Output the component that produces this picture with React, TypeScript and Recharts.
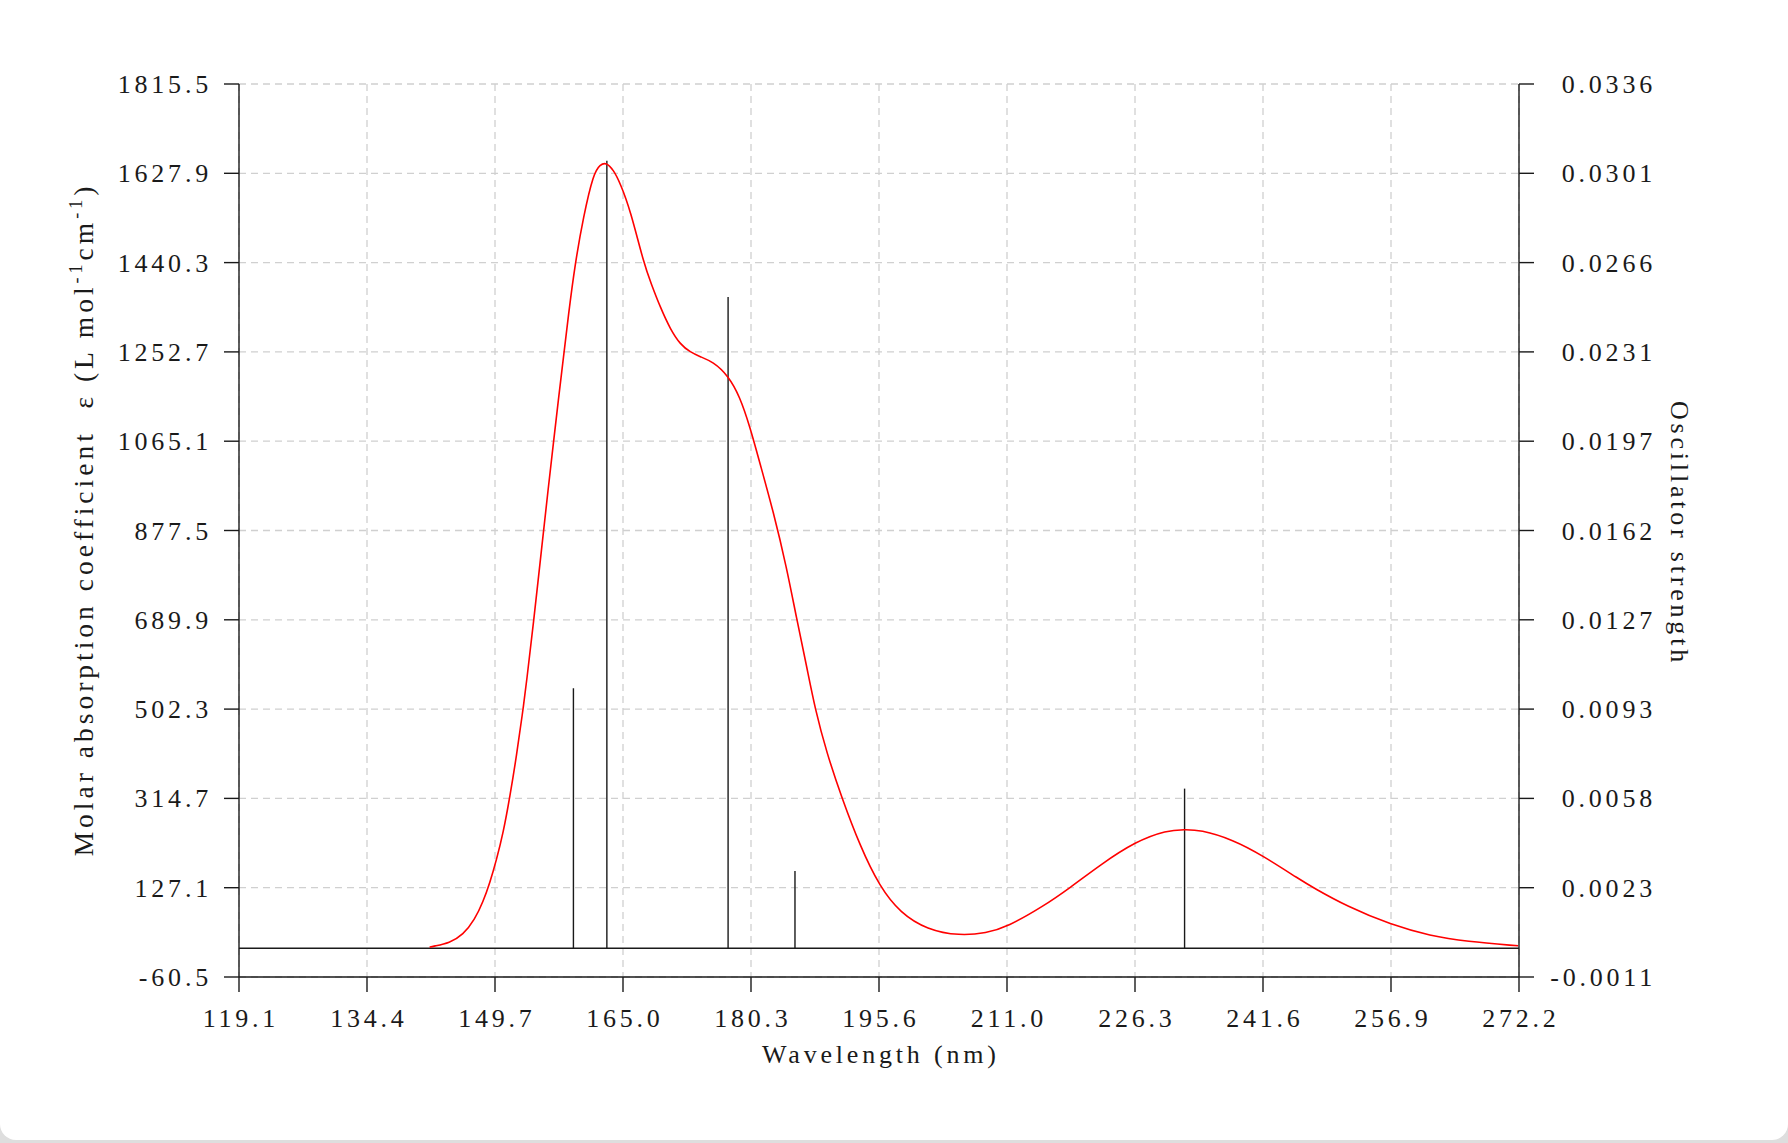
import React from "react";
import { ComposedChart, Line, XAxis, YAxis, CartesianGrid, ReferenceLine } from "recharts";

// absorption curve (nm, L mol-1 cm-1)
const wavelength = [
  141.9, 142.3, 144.3, 145.9, 147.3, 148.3, 149.1, 149.9, 150.7, 151.5, 152.3, 153.0, 153.5, 154.3,
  155.3, 156.1, 156.7, 157.3, 157.9, 158.5, 159.3, 160.3, 161.5, 162.3, 163.0, 163.9, 164.7, 165.9,
  167.5, 168.4, 169.5, 170.7, 171.9, 173.1, 174.2, 175.8, 177.6, 179.0, 180.2, 181.4, 183.0, 184.6,
  185.8, 187.0, 188.0, 189.4, 191.2, 193.4, 195.7, 198.2, 201.4, 205.3, 208.5, 211.0, 215.3, 218.5,
  222.1, 226.3, 230.1, 232.2, 234.0, 238.0, 241.6, 246.0, 247.6, 251.6, 256.9, 261.6, 265.9, 272.1,
];
const epsilon = [
  2, 4, 11, 28, 60, 98, 137, 186, 242, 318, 405, 492, 560, 680,
  840, 968, 1060, 1152, 1240, 1330, 1438, 1537, 1628, 1646, 1651, 1635, 1607, 1551,
  1440, 1396, 1346, 1300, 1268, 1252, 1243, 1232, 1203, 1159, 1096, 1019, 918, 800,
  692, 592, 503, 410, 316, 214, 130, 74, 39, 26, 32, 45, 88, 127,
  175, 224, 248, 249, 249, 228, 194, 144, 127, 88, 49, 26, 14, 5,
];

// transitions (nm, oscillator strength)
const stickWavelength = [159.1, 163.1, 177.6, 185.6, 232.2];
const stickStrength = [0.0101, 0.0306, 0.0253, 0.003, 0.0062];

const xTickLabels = ["119.1", "134.4", "149.7", "165.0", "180.3", "195.6", "211.0", "226.3", "241.6", "256.9", "272.2"];
const epsTickLabels = ["-60.5", "127.1", "314.7", "502.3", "689.9", "877.5", "1065.1", "1252.7", "1440.3", "1627.9", "1815.5"];
const fTickLabels = ["-0.0011", "0.0023", "0.0058", "0.0093", "0.0127", "0.0162", "0.0197", "0.0231", "0.0266", "0.0301", "0.0336"];

const X_MIN = 119.1;
const X_MAX = 272.2;
const EPS_MIN = -60.5;
const EPS_MAX = 1815.5;
const F_MIN = -0.00112;
const F_MAX = 0.03358;

const even = (min: number, max: number, n: number) =>
  Array.from({ length: n }, (_, i) => min + (i * (max - min)) / (n - 1));

const xTicks = even(X_MIN, X_MAX, xTickLabels.length);
const epsTicks = even(EPS_MIN, EPS_MAX, epsTickLabels.length);
const fTicks = even(F_MIN, F_MAX, fTickLabels.length);

const curve = wavelength.map((w, i) => ({ w, eps: epsilon[i] }));
const sticks = stickWavelength.map((w, i) => [
  { w, f: 0 },
  { w, f: stickStrength[i] },
]);

const FONT = "'Liberation Serif', 'Times New Roman', serif";
const INK = "#1a1a1a";
const textStyle: React.CSSProperties = { letterSpacing: "3.8px", whiteSpace: "pre" };

const labelAt = (labels: string[], ticks: number[], v: number) => {
  let best = 0;
  ticks.forEach((t, i) => {
    if (Math.abs(t - v) < Math.abs(ticks[best] - v)) best = i;
  });
  return labels[best];
};

const BottomTick = ({ x, y, payload }: any) => (
  <text x={x + 1.9} y={y + 33} textAnchor="middle" fontSize={26} fontFamily={FONT} fill={INK} style={textStyle}>
    {labelAt(xTickLabels, xTicks, payload.value)}
  </text>
);

const LeftTick = ({ x, y, payload }: any) => (
  <text x={x - 10} y={y + 9} textAnchor="end" fontSize={26} fontFamily={FONT} fill={INK} style={textStyle}>
    {labelAt(epsTickLabels, epsTicks, payload.value)}
  </text>
);

const RightTick = ({ x, y, payload }: any) => (
  <text x={x + 120} y={y + 9} textAnchor="end" fontSize={26} fontFamily={FONT} fill={INK} style={textStyle}>
    {labelAt(fTickLabels, fTicks, payload.value)}
  </text>
);

const XTitle = ({ viewBox }: any) => (
  <text
    x={viewBox.x + viewBox.width / 2 + 1.9}
    y={viewBox.y + 86}
    textAnchor="middle"
    fontSize={26}
    fontFamily={FONT}
    fill={INK}
    style={textStyle}
  >
    Wavelength (nm)
  </text>
);

const LeftTitle = ({ viewBox }: any) => {
  const cx = 93;
  const cy = viewBox.y + viewBox.height / 2 - 11;
  return (
    <text
      x={cx}
      y={cy}
      transform={`rotate(-90, ${cx}, ${cy})`}
      textAnchor="middle"
      fontSize={27.5}
      fontFamily={FONT}
      fill={INK}
      style={{ letterSpacing: "4px", whiteSpace: "pre" }}
    >
      Molar absorption coefficient  ε (L mol
      <tspan dy={-11} fontSize={18}>-1</tspan>
      <tspan dy={11}>cm</tspan>
      <tspan dy={-11} fontSize={18}>-1</tspan>
      <tspan dy={11}>)</tspan>
    </text>
  );
};

const RightTitle = ({ viewBox }: any) => {
  const cx = 1671;
  const cy = viewBox.y + viewBox.height / 2 + 3;
  return (
    <text
      x={cx}
      y={cy}
      transform={`rotate(90, ${cx}, ${cy})`}
      textAnchor="middle"
      fontSize={26}
      fontFamily={FONT}
      fill={INK}
      style={textStyle}
    >
      Oscillator strength
    </text>
  );
};

export default function App() {
  return (
    <div style={{ position: "absolute", left: 0, top: 0, width: 1788, height: 1143, background: "#dedede" }}>
      <div
        style={{
          position: "absolute",
          left: 0,
          top: 0,
          width: 1788,
          height: 1140,
          background: "#ffffff",
          borderRadius: "0 0 16px 16px",
        }}
      >
        <ComposedChart width={1788} height={1143} data={curve} margin={{ top: 84, right: 0, bottom: 0, left: 0 }}>
          <CartesianGrid stroke="#d0d0d0" strokeDasharray="7 5" strokeWidth={1.3} />
          <XAxis
            dataKey="w"
            type="number"
            domain={[X_MIN, X_MAX]}
            ticks={xTicks}
            interval={0}
            allowDataOverflow
            height={166}
            tickSize={15}
            stroke={INK}
            strokeWidth={1.4}
            tick={<BottomTick />}
            label={{ content: XTitle }}
          />
          <XAxis
            xAxisId="top"
            orientation="top"
            type="number"
            domain={[X_MIN, X_MAX]}
            ticks={xTicks}
            interval={0}
            allowDataOverflow
            height={0}
            tickSize={15}
            stroke={INK}
            strokeWidth={1.4}
            tickFormatter={() => ""}
          />
          <YAxis
            type="number"
            domain={[EPS_MIN, EPS_MAX]}
            ticks={epsTicks}
            interval={0}
            allowDataOverflow
            width={239}
            tickSize={15}
            stroke={INK}
            strokeWidth={1.4}
            tick={<LeftTick />}
            label={{ content: LeftTitle }}
          />
          <YAxis
            yAxisId="right"
            orientation="right"
            type="number"
            domain={[F_MIN, F_MAX]}
            ticks={fTicks}
            interval={0}
            allowDataOverflow
            width={269}
            tickSize={15}
            stroke={INK}
            strokeWidth={1.4}
            tick={<RightTick />}
            label={{ content: RightTitle }}
          />
          <ReferenceLine y={0} stroke={INK} strokeWidth={1.4} />
          {sticks.map((s, i) => (
            <Line
              key={i}
              data={s}
              dataKey="f"
              yAxisId="right"
              stroke={INK}
              strokeWidth={1.4}
              dot={false}
              activeDot={false}
              isAnimationActive={false}
            />
          ))}
          <Line
            dataKey="eps"
            type="basis"
            stroke="#ff0000"
            strokeWidth={1.6}
            dot={false}
            activeDot={false}
            isAnimationActive={false}
          />
        </ComposedChart>
      </div>
    </div>
  );
}
